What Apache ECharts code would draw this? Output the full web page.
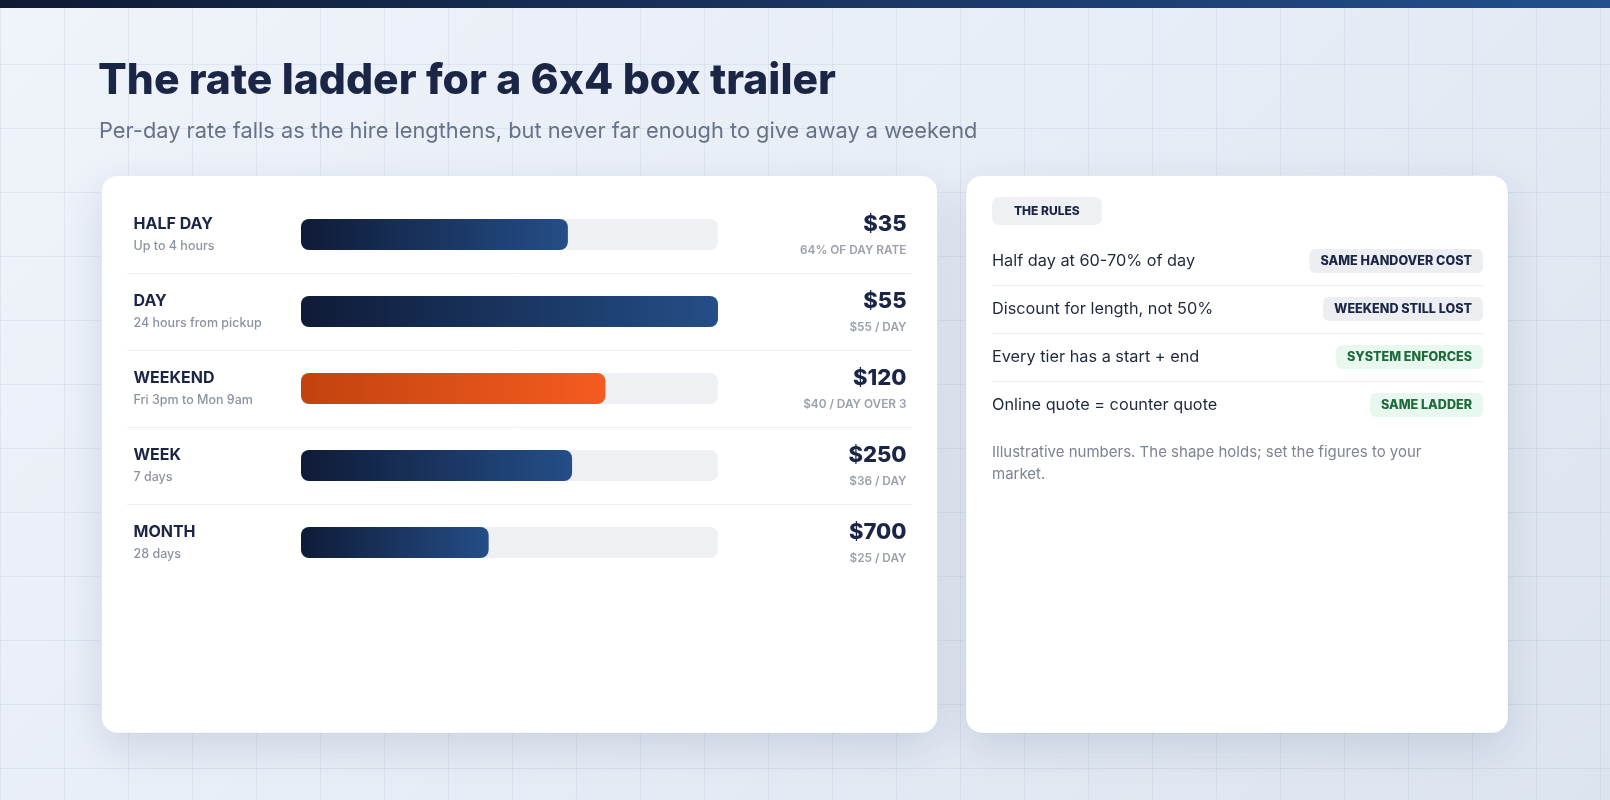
<!DOCTYPE html>
<html>
<head>
<meta charset="utf-8">
<script src="https://cdn.jsdelivr.net/npm/echarts@6/dist/echarts.min.js"></script>
<style>
html,body{margin:0;padding:0;width:1610px;height:800px;overflow:hidden;}
body{background:linear-gradient(135deg,#eff3fa 0%,#e7edf6 50%,#dce4ef 100%);position:relative;}
#gridbg{position:absolute;left:0;top:0;width:1610px;height:800px;
background-image:linear-gradient(to right,rgba(60,90,140,0.08) 1px,transparent 1px),linear-gradient(to bottom,rgba(60,90,140,0.08) 1px,transparent 1px);
background-size:64px 64px;}
#topbar{position:absolute;left:0;top:0;width:1610px;height:8px;background:linear-gradient(90deg,#0f1a33 0%,#1a3766 55%,#21508c 100%);}
#chart{position:absolute;left:0;top:0;width:1610px;height:800px;}
</style>
</head>
<body>
<div id="gridbg"></div>
<div id="topbar"></div>
<div id="chart"></div>
<script>
// ---------- data ----------
const titleParts = ['The rate ladder for a 6', 'x', '4 box trailer'];
const subtitleText = 'Per-day rate falls as the hire lengthens, but never far enough to give away a weekend';
const tiers = ['HALF DAY', 'DAY', 'WEEKEND', 'WEEK', 'MONTH'];
const tierNotes = ['Up to 4 hours', '24 hours from pickup', 'Fri 3pm to Mon 9am', '7 days', '28 days'];
const prices = ['$35', '$55', '$120', '$250', '$700'];
const priceNotes = ['64% OF DAY RATE', '$55 / DAY', '$40 / DAY OVER 3', '$36 / DAY', '$25 / DAY'];
const pctOfDayRate = [64, 100, 73, 65, 45];
const highlightTier = 'WEEKEND';
const rulesHeading = 'THE RULES';
const rules = ['Half day at 60-70% of day', 'Discount for length, not 50%', 'Every tier has a start + end', 'Online quote = counter quote'];
const ruleTags = ['SAME HANDOVER COST', 'WEEKEND STILL LOST', 'SYSTEM ENFORCES', 'SAME LADDER'];
const ruleTagTones = ['neutral', 'neutral', 'good', 'good'];
const footnote = 'Illustrative numbers. The shape holds; set the figures to your market.';

// ---------- layout ----------
const FONT = 'Inter, "Noto Sans", sans-serif';
const gridLeft = 301, gridRight = 718, gridTop = 196, rowH = 77;
const leftCard = {x: 101.5, y: 175.5, w: 836, h: 557.5};
const rightCard = {x: 966, y: 175.5, w: 542, h: 557.5};

const navyGrad = new echarts.graphic.LinearGradient(0, 0, 1, 0, [
  {offset: 0, color: '#0f1b37'}, {offset: 1, color: '#244e88'}]);
const orangeGrad = new echarts.graphic.LinearGradient(0, 0, 1, 0, [
  {offset: 0, color: '#c2430e'}, {offset: 1, color: '#f55b21'}]);

const graphics = [];
// cards
[leftCard, rightCard].forEach(c => graphics.push({
  type: 'rect', z: -10, silent: true,
  shape: {x: c.x, y: c.y, width: c.w, height: c.h, r: 16},
  style: {fill: '#ffffff', stroke: 'rgba(20,40,80,0.05)', lineWidth: 1,
    shadowBlur: 40, shadowColor: 'rgba(25,45,90,0.13)', shadowOffsetY: 14}
}));
// title (split into segments so the x between digits stays a plain x)
const titleStyle = {fontFamily: FONT, fontSize: 42.6, fontWeight: 800, fill: '#1b2647'};
graphics.push({type: 'text', z: 10, x: 98, y: 81,
  style: {text: '{a|' + titleParts[0] + '}{a|' + titleParts[1] + '}{a|' + titleParts[2] + '}',
    fill: '#1b2647', verticalAlign: 'middle', rich: {a: titleStyle}}});
graphics.push({type: 'text', z: 10, x: 99, y: 131,
  style: {text: subtitleText, font: '400 21.8px ' + FONT, fill: '#667287', verticalAlign: 'middle'}});
// row separators in the ladder card
for (let i = 1; i < tiers.length; i++) {
  const y = gridTop + i * rowH + 0.5;
  graphics.push({type: 'line', z: 5, silent: true,
    shape: {x1: 127, y1: y, x2: 912, y2: y}, style: {stroke: '#eceef2', lineWidth: 1}});
}
// rules card
graphics.push({type: 'text', z: 10, x: 992, y: 197,
  style: {text: rulesHeading, font: '800 12px ' + FONT, fill: '#1b2647',
    backgroundColor: '#eef0f3', padding: [8, 22, 8, 22], lineHeight: 12, borderRadius: 7}});
rules.forEach((r, i) => {
  const cy = 261 + 48 * i;
  graphics.push({type: 'text', z: 10, x: 992, y: cy,
    style: {text: r, font: '400 16.3px ' + FONT, fill: '#1e293b', verticalAlign: 'middle'}});
  const good = ruleTagTones[i] === 'good';
  graphics.push({type: 'text', z: 10, x: 1483, y: cy,
    style: {text: ruleTags[i], font: '800 12.6px ' + FONT, fill: good ? '#1d6a3c' : '#1b2647',
      align: 'right', verticalAlign: 'middle', lineHeight: 14,
      backgroundColor: good ? '#e9f8ef' : '#eceef1', padding: [5, 11, 5, 11], borderRadius: 6}});
  if (i < rules.length - 1) {
    const y = cy + 24.5;
    graphics.push({type: 'line', z: 5, silent: true,
      shape: {x1: 992, y1: y, x2: 1483, y2: y}, style: {stroke: '#eceef2', lineWidth: 1}});
  }
});
graphics.push({type: 'text', z: 10, x: 992, y: 441,
  style: {text: footnote, font: '400 15px ' + FONT, fill: '#7b8495', lineHeight: 22,
    width: 465, overflow: 'break'}});

const chart = echarts.init(document.getElementById('chart'), null, {renderer: 'canvas'});
chart.setOption({
  animation: false,
  backgroundColor: 'transparent',
  textStyle: {fontFamily: FONT},
  grid: {left: gridLeft, right: 1610 - gridRight, top: gridTop, height: rowH * tiers.length, containLabel: false},
  xAxis: {type: 'value', min: 0, max: 100, show: false},
  yAxis: [{
    type: 'category', data: tiers, inverse: true, position: 'left',
    axisLine: {show: false}, axisTick: {show: false}, splitLine: {show: false},
    axisLabel: {
      align: 'left', margin: gridLeft - 133.5,
      formatter: (v, i) => '{t|' + v + '}\n{s|' + tierNotes[i] + '}',
      rich: {
        t: {fontFamily: FONT, fontSize: 16, fontWeight: 700, color: '#1b2647', lineHeight: 24},
        s: {fontFamily: FONT, fontSize: 12.5, fontWeight: 500, color: '#8b93a1', lineHeight: 21}
      }
    }
  }, {
    type: 'category', data: tiers, inverse: true, position: 'right',
    axisLine: {show: false}, axisTick: {show: false}, splitLine: {show: false},
    axisLabel: {
      align: 'right', margin: 906.5 - gridRight,
      formatter: (v, i) => '{p|' + prices[i] + '}\n{n|' + priceNotes[i] + '}',
      rich: {
        p: {fontFamily: FONT, fontSize: 22, fontWeight: 800, color: '#1b2647', lineHeight: 32, align: 'right'},
        n: {fontFamily: FONT, fontSize: 11.8, fontWeight: 600, color: '#9aa1ad', lineHeight: 20, align: 'right'}
      }
    }
  }],
  series: [{
    type: 'bar', yAxisIndex: 0, barWidth: 31,
    showBackground: true,
    backgroundStyle: {color: '#eef0f3', borderRadius: 8},
    itemStyle: {borderRadius: 8},
    data: pctOfDayRate.map((v, i) => ({
      value: v,
      itemStyle: {color: tiers[i] === highlightTier ? orangeGrad : navyGrad}
    }))
  }],
  graphic: graphics
});
</script>
</body>
</html>
